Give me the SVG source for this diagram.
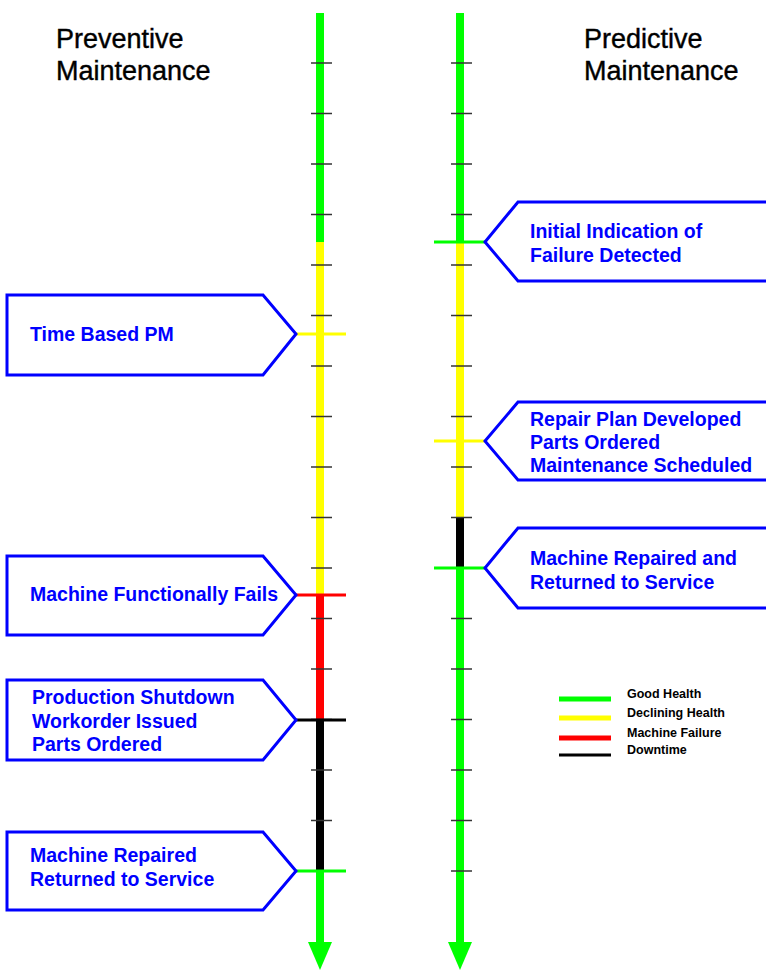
<svg xmlns="http://www.w3.org/2000/svg" width="766" height="970" viewBox="0 0 766 970">
<style>
.title{font-family:"Liberation Sans",Arial,sans-serif;font-size:27px;fill:#000;stroke:#000;stroke-width:0.4}
.lbl{font-family:"Liberation Sans",Arial,sans-serif;font-size:19.5px;font-weight:bold;fill:#0000ff}
.leg{font-family:"Liberation Sans",Arial,sans-serif;font-size:12.5px;font-weight:bold;fill:#000}
.box{fill:#fff;stroke:#0000ff;stroke-width:3;stroke-linejoin:miter}
.ax{stroke-width:8;fill:none}
.tick{stroke:#333;stroke-width:1.5}
.cross{stroke-width:3}
.g{stroke:#00ff00}.y{stroke:#ffff00}.r{stroke:#ff0000}.k{stroke:#000}
</style>
<rect width="766" height="970" fill="#fff"/>
<g id="titles">
<text class="title" x="56" y="48">Preventive</text>
<text class="title" x="56" y="80">Maintenance</text>
<text class="title" x="584" y="48">Predictive</text>
<text class="title" x="584" y="80">Maintenance</text>
</g>
<g id="connectors">
<g id="left-axis">
<line class="ax g" x1="320" y1="13" x2="320" y2="242"/>
<line class="ax y" x1="320" y1="242" x2="320" y2="595"/>
<line class="ax r" x1="320" y1="595" x2="320" y2="720"/>
<line class="ax k" x1="320" y1="720" x2="320" y2="871"/>
<line class="ax g" x1="320" y1="871" x2="320" y2="945"/>
<polygon points="308,942 332,942 320,970" fill="#00ff00"/>
<g class="tick">
<line x1="311" y1="63" x2="332" y2="63"/><line x1="311" y1="113.5" x2="332" y2="113.5"/><line x1="311" y1="164" x2="332" y2="164"/><line x1="311" y1="214.5" x2="332" y2="214.5"/><line x1="311" y1="265" x2="332" y2="265"/><line x1="311" y1="315.5" x2="332" y2="315.5"/><line x1="311" y1="366" x2="332" y2="366"/><line x1="311" y1="416.5" x2="332" y2="416.5"/><line x1="311" y1="467" x2="332" y2="467"/><line x1="311" y1="517.5" x2="332" y2="517.5"/><line x1="311" y1="568" x2="332" y2="568"/><line x1="311" y1="618.5" x2="332" y2="618.5"/><line x1="311" y1="669" x2="332" y2="669"/><line x1="311" y1="719.5" x2="332" y2="719.5"/><line x1="311" y1="770" x2="332" y2="770"/><line x1="311" y1="820.5" x2="332" y2="820.5"/><line x1="311" y1="871" x2="332" y2="871"/>
</g>
<line class="cross y" x1="296" y1="334" x2="346" y2="334"/>
<line class="cross r" x1="296" y1="595" x2="346" y2="595"/>
<line class="cross k" x1="296" y1="720" x2="346" y2="720"/>
<line class="cross g" x1="296" y1="871" x2="346" y2="871"/>
</g>
<g id="right-axis">
<line class="ax g" x1="460" y1="13" x2="460" y2="242"/>
<line class="ax y" x1="460" y1="242" x2="460" y2="518"/>
<line class="ax k" x1="460" y1="518" x2="460" y2="568"/>
<line class="ax g" x1="460" y1="568" x2="460" y2="945"/>
<polygon points="448,942 472,942 460,970" fill="#00ff00"/>
<g class="tick">
<line x1="451" y1="63" x2="472" y2="63"/><line x1="451" y1="113.5" x2="472" y2="113.5"/><line x1="451" y1="164" x2="472" y2="164"/><line x1="451" y1="214.5" x2="472" y2="214.5"/><line x1="451" y1="265" x2="472" y2="265"/><line x1="451" y1="315.5" x2="472" y2="315.5"/><line x1="451" y1="366" x2="472" y2="366"/><line x1="451" y1="416.5" x2="472" y2="416.5"/><line x1="451" y1="467" x2="472" y2="467"/><line x1="451" y1="517.5" x2="472" y2="517.5"/><line x1="451" y1="568" x2="472" y2="568"/><line x1="451" y1="618.5" x2="472" y2="618.5"/><line x1="451" y1="669" x2="472" y2="669"/><line x1="451" y1="719.5" x2="472" y2="719.5"/><line x1="451" y1="770" x2="472" y2="770"/><line x1="451" y1="820.5" x2="472" y2="820.5"/><line x1="451" y1="871" x2="472" y2="871"/>
</g>
<line class="cross g" x1="434" y1="242" x2="485" y2="242"/>
<line class="cross y" x1="434" y1="441" x2="485" y2="441"/>
<line class="cross g" x1="434" y1="568" x2="485" y2="568"/>
</g>
</g>
<g id="time-based-pm">
<path class="box" d="M263,295 L7,295 L7,375 L263,375 L296,334 Z"/>
<text class="lbl" x="30" y="341">Time Based PM</text>
</g>
<g id="machine-fails">
<path class="box" d="M263,556 L7,556 L7,635 L263,635 L296,595 Z"/>
<text class="lbl" x="30" y="601">Machine Functionally Fails</text>
</g>
<g id="production-shutdown">
<path class="box" d="M263,680 L7,680 L7,760 L263,760 L296,720 Z"/>
<text class="lbl" x="32" y="704">Production Shutdown</text>
<text class="lbl" x="32" y="728">Workorder Issued</text>
<text class="lbl" x="32" y="751">Parts Ordered</text>
</g>
<g id="pm-repaired">
<path class="box" d="M263,832 L7,832 L7,910 L263,910 L296,871 Z"/>
<text class="lbl" x="30" y="862">Machine Repaired</text>
<text class="lbl" x="30" y="886">Returned to Service</text>
</g>
<g id="initial-indication">
<path class="box" d="M518,202 L775,202 L775,281 L518,281 L485,242 Z"/>
<text class="lbl" x="530" y="238">Initial Indication of</text>
<text class="lbl" x="530" y="262">Failure Detected</text>
</g>
<g id="repair-plan">
<path class="box" d="M518,402 L775,402 L775,480 L518,480 L485,441 Z"/>
<text class="lbl" x="530" y="426">Repair Plan Developed</text>
<text class="lbl" x="530" y="449">Parts Ordered</text>
<text class="lbl" x="530" y="472">Maintenance Scheduled</text>
</g>
<g id="pdm-repaired">
<path class="box" d="M518,528 L775,528 L775,608 L518,608 L485,568 Z"/>
<text class="lbl" x="530" y="565">Machine Repaired and</text>
<text class="lbl" x="530" y="589">Returned to Service</text>
</g>
<g id="legend">
<line x1="559" y1="699" x2="611" y2="699" stroke="#00ff00" stroke-width="5"/>
<line x1="559" y1="718" x2="611" y2="718" stroke="#ffff00" stroke-width="5"/>
<line x1="559" y1="738" x2="611" y2="738" stroke="#ff0000" stroke-width="5"/>
<line x1="559" y1="755" x2="611" y2="755" stroke="#000" stroke-width="3"/>
<text class="leg" x="627" y="698">Good Health</text>
<text class="leg" x="627" y="717">Declining Health</text>
<text class="leg" x="627" y="737">Machine Failure</text>
<text class="leg" x="627" y="754">Downtime</text>
</g>
</svg>
